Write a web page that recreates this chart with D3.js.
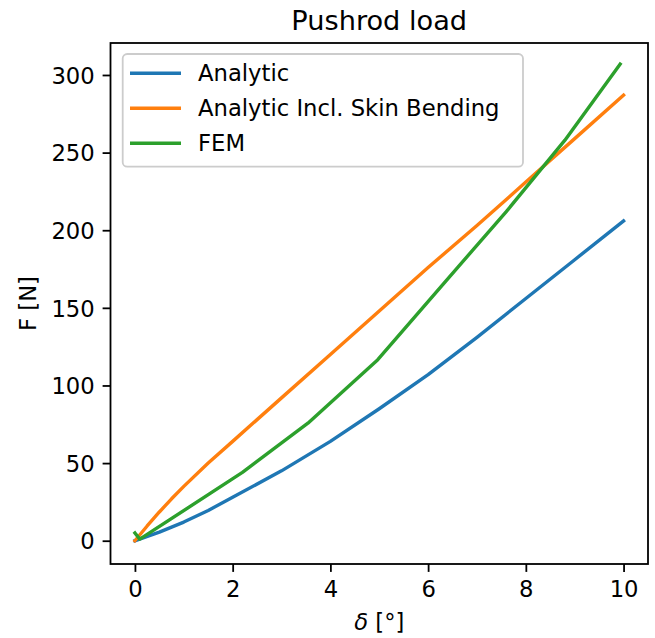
<!DOCTYPE html>
<html>
<head>
<meta charset="utf-8">
<script src="https://cdn.jsdelivr.net/npm/d3@7"></script>
<style>
	body { margin: 0; background: #fff; }
	text { font-family: "DejaVu Sans", sans-serif; fill: #000; }
</style>
</head>
<body>
<svg id="chart" width="655" height="638"></svg>
<script>
// values
var deltaAnalytic = [0, 0.5, 1, 1.5, 2, 3, 4, 5, 6, 7, 8, 9, 10];
var loadAnalytic = [0, 5.5, 12, 19.5, 28, 45, 64, 85, 107, 131, 156, 181, 206];

var deltaSkin = [0, 0.25, 0.5, 0.75, 1, 1.5, 2, 3, 4, 5, 6, 7, 8, 9, 10];
var loadSkin = [0, 9.5, 18.5, 27, 35, 50, 64, 92, 120, 148, 176, 203, 231, 259, 287];

var deltaFem = [0, 0.1, 2.2, 3.54, 4.97, 6.3, 7.6, 8.8, 9.93];
var loadFem = [5, 1, 44, 75.7, 116.6, 165, 212, 258, 307];

var seriesNames = ["Analytic", "Analytic Incl. Skin Bending", "FEM"];
var seriesColors = ["#1f77b4", "#ff7f0e", "#2ca02c"];

var xTicks = [0, 2, 4, 6, 8, 10];
var yTicks = [0, 50, 100, 150, 200, 250, 300];

var svg = d3.select("#chart"),
	fs = 22.7,
	lw = 3.4,
	spine = 1.8,
	tickLen = 7.9,
	pad = 7.9,
	// note: "top" is taken by window.top, so use box* names
	boxL = 110.5, boxR = 648, boxT = 43, boxB = 564;

var x = d3.scaleLinear().domain([-0.5, 10.5]).range([boxL, boxR]),
	y = d3.scaleLinear().domain([-15, 320.6]).range([boxB, boxT]);

var series = [
	{xs: deltaAnalytic, ys: loadAnalytic},
	{xs: deltaSkin, ys: loadSkin},
	{xs: deltaFem, ys: loadFem}
];

// clip lines to axes box
svg.append("defs").append("clipPath").attr("id", "clip")
	.append("rect")
	.attr("x", boxL).attr("y", boxT)
	.attr("width", boxR - boxL).attr("height", boxB - boxT);

var line = d3.line()
	.x(function(d) { return x(d[0]); })
	.y(function(d) { return y(d[1]); });

series.forEach(function(s, i) {
	var pts = s.xs.map(function(v, j) { return [v, s.ys[j]]; });
	svg.append("path")
		.attr("d", line(pts))
		.attr("clip-path", "url(#clip)")
		.attr("fill", "none")
		.attr("stroke", seriesColors[i])
		.attr("stroke-width", lw)
		.attr("stroke-linecap", "square")
		.attr("stroke-linejoin", "round");
});

// axes
var xAxis = d3.axisBottom(x).tickValues(xTicks).tickSize(tickLen).tickPadding(pad)
	.tickFormat(d3.format("d"));
var yAxis = d3.axisLeft(y).tickValues(yTicks).tickSize(tickLen).tickPadding(pad)
	.tickFormat(d3.format("d"));

var gx = svg.append("g").attr("transform", "translate(0," + boxB + ")").call(xAxis);
var gy = svg.append("g").attr("transform", "translate(" + boxL + ",0)").call(yAxis);

[gx, gy].forEach(function(g) {
	g.select(".domain").remove();
	g.selectAll(".tick line").attr("stroke", "#000").attr("stroke-width", spine);
	g.selectAll(".tick text")
		.attr("font-size", fs)
		.attr("font-family", "DejaVu Sans")
		.attr("fill", "#000");
});
gx.selectAll(".tick text").attr("dy", "0.76em");
gy.selectAll(".tick text").attr("dy", "0.36em");

// frame
svg.append("rect")
	.attr("x", boxL).attr("y", boxT)
	.attr("width", boxR - boxL).attr("height", boxB - boxT)
	.attr("fill", "none")
	.attr("stroke", "#000")
	.attr("stroke-width", spine)
	.attr("stroke-linejoin", "miter");

// title and labels
svg.append("text")
	.attr("x", (boxL + boxR) / 2).attr("y", 29.5)
	.attr("text-anchor", "middle")
	.attr("font-size", 27.2)
	.text("Pushrod load");

var xl = svg.append("text")
	.attr("x", (boxL + boxR) / 2).attr("y", 630)
	.attr("text-anchor", "middle")
	.attr("font-size", fs);
xl.append("tspan").attr("font-style", "italic").text("δ");
xl.append("tspan").text(" [°]");

svg.append("text")
	.attr("transform", "translate(36," + ((boxT + boxB) / 2) + ") rotate(-90)")
	.attr("text-anchor", "middle")
	.attr("font-size", fs)
	.text("F [N]");

// legend
var lg = svg.append("g");
lg.append("rect")
	.attr("x", 122.7).attr("y", 54)
	.attr("width", 523 - 122.7).attr("height", 166.7 - 54)
	.attr("rx", 4.5).attr("ry", 4.5)
	.attr("fill", "#fff").attr("fill-opacity", 0.8)
	.attr("stroke", "#cccccc").attr("stroke-width", 1.8);

var rowY = d3.scalePoint().domain(seriesNames).range([73.3, 143.3]);

seriesNames.forEach(function(name, i) {
	var ry = rowY(name);
	lg.append("line")
		.attr("x1", 130).attr("x2", 181)
		.attr("y1", ry).attr("y2", ry)
		.attr("stroke", seriesColors[i])
		.attr("stroke-width", lw);
	lg.append("text")
		.attr("x", 198).attr("y", ry)
		.attr("dy", "0.36em")
		.attr("font-size", fs)
		.text(name);
});
</script>
</body>
</html>
